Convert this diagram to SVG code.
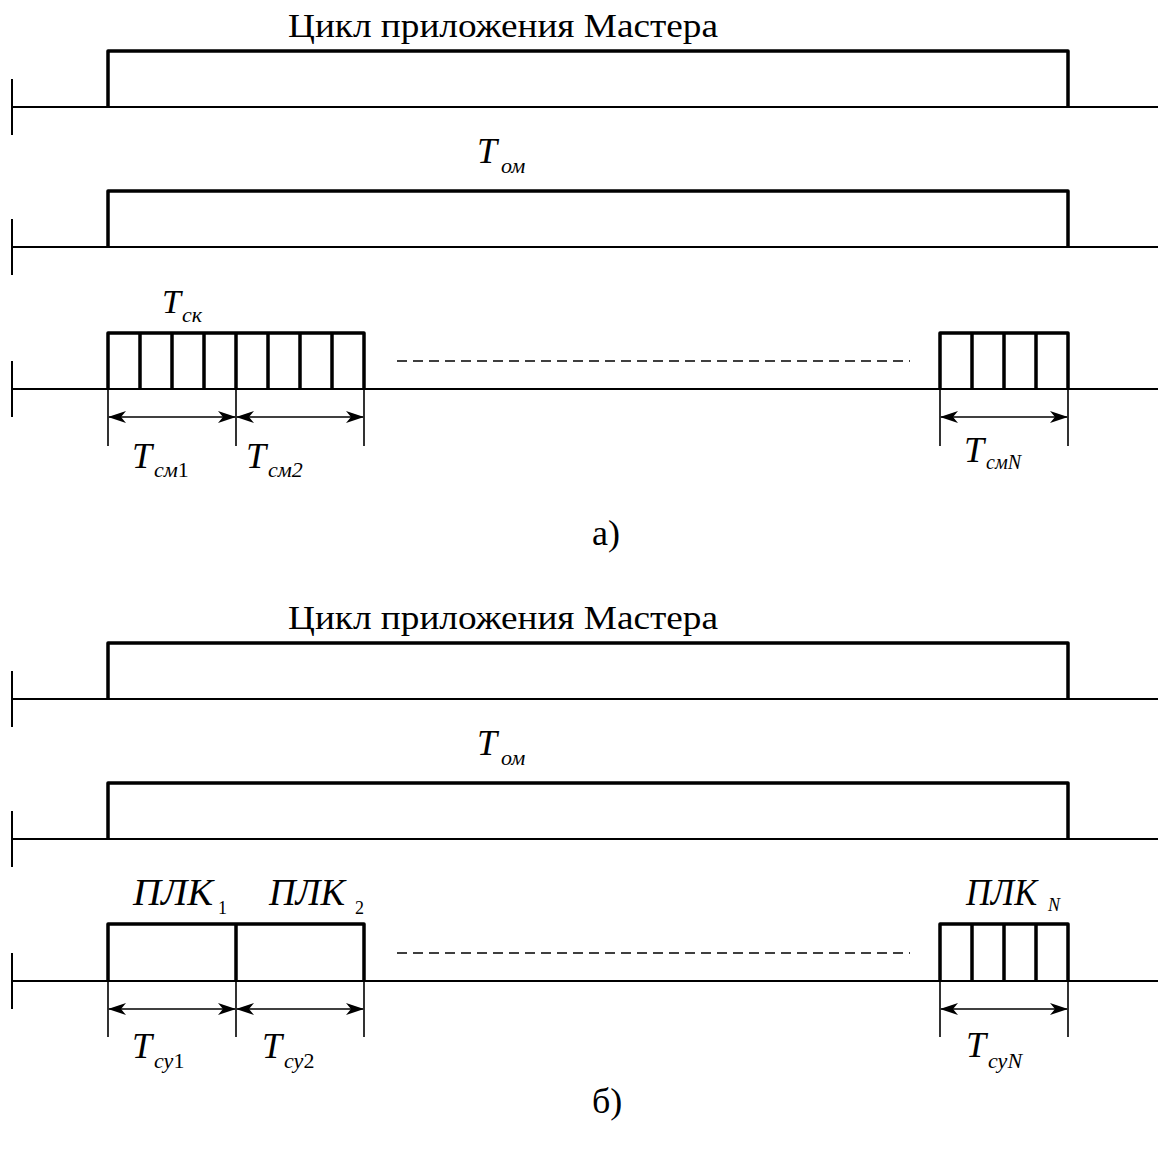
<svg xmlns="http://www.w3.org/2000/svg" width="1158" height="1149" viewBox="0 0 1158 1149">
<style>
.base{stroke:#000;stroke-width:2;fill:none}
.pulse{stroke:#000;stroke-width:3.5;fill:none;stroke-linejoin:round}
.thin{stroke:#000;stroke-width:1.6;fill:none}
.dash{stroke:#000;stroke-width:1.6;stroke-dasharray:10 6;fill:none}
.t{font-family:"Liberation Serif","Times New Roman",serif;fill:#000}
.it{font-style:italic}
.up{font-style:normal}
</style>
<defs>
<marker id="ah" viewBox="0 0 18 12" refX="17" refY="6" markerWidth="18" markerHeight="12" markerUnits="userSpaceOnUse" orient="auto-start-reverse">
<path d="M0,0 L18,6 L0,12 L5,6 z" fill="#000"/>
</marker>
</defs>
<rect width="1158" height="1149" fill="#fff"/>

<!-- Part a -->
<g id="a-title"><text class="t" x="288" y="37" font-size="34" textLength="430" lengthAdjust="spacingAndGlyphs">Цикл приложения Мастера</text></g>
<g id="a-row1">
<line class="base" x1="12" y1="107" x2="1158" y2="107"/>
<line class="base" x1="12" y1="79" x2="12" y2="135"/>
<path class="pulse" d="M108,107 V51 H1068 V107"/>
</g>
<g id="a-tom"><text class="t it" x="477" y="163" font-size="36">T</text><text class="t it" x="501" y="173" font-size="22">ом</text></g>
<g id="a-row2">
<line class="base" x1="12" y1="247" x2="1158" y2="247"/>
<line class="base" x1="12" y1="219" x2="12" y2="275"/>
<path class="pulse" d="M108,247 V191 H1068 V247"/>
</g>
<g id="a-tsk"><text class="t it" x="162" y="313" font-size="34">T</text><text class="t it" x="182" y="322" font-size="22">ск</text></g>
<g id="a-row3">
<line class="base" x1="12" y1="389" x2="1158" y2="389"/>
<line class="base" x1="12" y1="361" x2="12" y2="417"/>
<path class="pulse" d="M108,389 V333 H364 V389 M140,333 V389 M172,333 V389 M204,333 V389 M236,333 V389 M268,333 V389 M300,333 V389 M332,333 V389"/>
<path class="pulse" d="M940,389 V333 H1068 V389 M972,333 V389 M1004,333 V389 M1036,333 V389"/>
<line class="dash" x1="397" y1="361" x2="910" y2="361"/>
</g>
<g id="a-dims">
<path class="thin" d="M108,389 V446 M236,389 V446 M364,389 V446 M940,389 V446 M1068,389 V446"/>
</g>
<g id="connectors">
<line class="thin" x1="109" y1="417" x2="235" y2="417" marker-start="url(#ah)" marker-end="url(#ah)"/>
<line class="thin" x1="237" y1="417" x2="363" y2="417" marker-start="url(#ah)" marker-end="url(#ah)"/>
<line class="thin" x1="941" y1="417" x2="1067" y2="417" marker-start="url(#ah)" marker-end="url(#ah)"/>
<line class="thin" x1="109" y1="1009" x2="235" y2="1009" marker-start="url(#ah)" marker-end="url(#ah)"/>
<line class="thin" x1="237" y1="1009" x2="363" y2="1009" marker-start="url(#ah)" marker-end="url(#ah)"/>
<line class="thin" x1="941" y1="1009" x2="1067" y2="1009" marker-start="url(#ah)" marker-end="url(#ah)"/>
</g>
<g id="a-tsm1"><text class="t it" x="132" y="468" font-size="36">T</text><text class="t it" x="154" y="477" font-size="22">см<tspan class="up">1</tspan></text></g>
<g id="a-tsm2"><text class="t it" x="246" y="468" font-size="36">T</text><text class="t it" x="268" y="477" font-size="22">см2</text></g>
<g id="a-tsmN"><text class="t it" x="964" y="462" font-size="36">T</text><text class="t it" x="986" y="469" font-size="20">смN</text></g>
<g id="a-label"><text class="t" x="592" y="545" font-size="36">а)</text></g>

<!-- Part b -->
<g id="b-title"><text class="t" x="288" y="629" font-size="34" textLength="430" lengthAdjust="spacingAndGlyphs">Цикл приложения Мастера</text></g>
<g id="b-row1">
<line class="base" x1="12" y1="699" x2="1158" y2="699"/>
<line class="base" x1="12" y1="671" x2="12" y2="727"/>
<path class="pulse" d="M108,699 V643 H1068 V699"/>
</g>
<g id="b-tom"><text class="t it" x="477" y="755" font-size="36">T</text><text class="t it" x="501" y="765" font-size="22">ом</text></g>
<g id="b-row2">
<line class="base" x1="12" y1="839" x2="1158" y2="839"/>
<line class="base" x1="12" y1="811" x2="12" y2="867"/>
<path class="pulse" d="M108,839 V783 H1068 V839"/>
</g>
<g id="b-plk1"><text class="t it" x="133" y="905" font-size="37" textLength="80" lengthAdjust="spacingAndGlyphs">ПЛК</text><text class="t" x="218" y="914" font-size="18">1</text></g>
<g id="b-plk2"><text class="t it" x="269" y="905" font-size="37" textLength="76" lengthAdjust="spacingAndGlyphs">ПЛК</text><text class="t" x="355" y="914" font-size="18">2</text></g>
<g id="b-plkN"><text class="t it" x="966" y="905" font-size="37" textLength="71" lengthAdjust="spacingAndGlyphs">ПЛК</text><text class="t it" x="1048" y="911" font-size="18">N</text></g>
<g id="b-row3">
<line class="base" x1="12" y1="981" x2="1158" y2="981"/>
<line class="base" x1="12" y1="953" x2="12" y2="1009"/>
<path class="pulse" d="M108,981 V924 H364 V981 M236,924 V981"/>
<path class="pulse" d="M940,981 V924 H1068 V981 M972,924 V981 M1004,924 V981 M1036,924 V981"/>
<line class="dash" x1="397" y1="953" x2="910" y2="953"/>
</g>
<g id="b-dims">
<path class="thin" d="M108,981 V1037 M236,981 V1037 M364,981 V1037 M940,981 V1037 M1068,981 V1037"/>
</g>
<g id="b-tsy1"><text class="t it" x="132" y="1058" font-size="36">T</text><text class="t it" x="154" y="1068" font-size="22">су<tspan class="up">1</tspan></text></g>
<g id="b-tsy2"><text class="t it" x="262" y="1058" font-size="36">T</text><text class="t it" x="284" y="1068" font-size="22">су<tspan class="up">2</tspan></text></g>
<g id="b-tsyN"><text class="t it" x="966" y="1057" font-size="36">T</text><text class="t it" x="988" y="1068" font-size="22">суN</text></g>
<g id="b-label"><text class="t" x="592" y="1113" font-size="36">б)</text></g>
</svg>
